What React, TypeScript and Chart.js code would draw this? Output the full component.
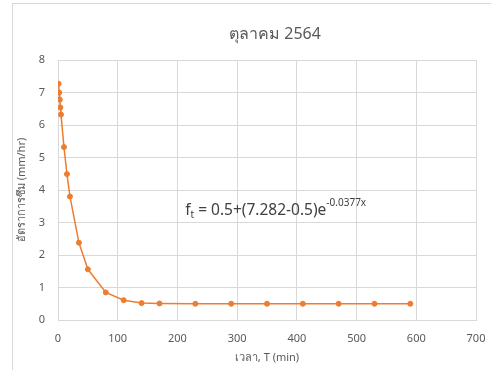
import React, { useEffect, useRef } from "react";
import { Chart, registerables } from "chart.js";

Chart.register(...registerables);

const chartTitle = "ตุลาคม 2564";
const xTitle = "เวลา, T (min)";
const yTitle = "อัตราการซึม (mm/hr)";
const times = [1, 2, 3, 4, 5, 10, 15, 20, 35, 50, 80, 110, 140, 170, 230, 290, 350, 410, 470, 530, 590];
const rates = [7.27, 7.0, 6.78, 6.54, 6.32, 5.32, 4.49, 3.8, 2.38, 1.56, 0.85, 0.61, 0.52, 0.51, 0.5, 0.5, 0.5, 0.5, 0.5, 0.5, 0.5];
const eqMain1 = "f";
const eqSub = "t";
const eqMain2 = " = 0.5+(7.282-0.5)e";
const eqSup = "-0.0377x";
const eqAnchor = { x: 213, y: 3.23 };

const FONT = '"Noto Sans", "Open Sans", sans-serif';
const TEXT = "#595959";
const GRID = "#d9d9d9";
const ORANGE = "#ED7D31";

const framePlugin = {
  id: "frame",
  beforeDraw(chart: any) {
    const ctx = chart.ctx;
    ctx.save();
    ctx.fillStyle = "#ffffff";
    ctx.fillRect(0, 0, chart.width, chart.height);
    ctx.strokeStyle = GRID;
    ctx.lineWidth = 1;
    ctx.strokeRect(12.5, 3.5, chart.width + 10, chart.height + 10);
    ctx.restore();
  },
  afterDraw(chart: any) {
    const ctx = chart.ctx;
    const { x, y } = chart.scales;
    ctx.save();
    // title
    ctx.fillStyle = TEXT;
    ctx.font = `16px ${FONT}`;
    ctx.textAlign = "center";
    ctx.textBaseline = "middle";
    ctx.fillText(chartTitle, 275, 34);
    // equation
    ctx.fillStyle = "#404040";
    ctx.textAlign = "left";
    ctx.textBaseline = "alphabetic";
    let px = x.getPixelForValue(eqAnchor.x);
    const py = y.getPixelForValue(eqAnchor.y);
    ctx.font = `15.5px ${FONT}`;
    ctx.fillText(eqMain1, px, py);
    px += ctx.measureText(eqMain1).width;
    ctx.font = `10px ${FONT}`;
    ctx.fillText(eqSub, px, py + 3);
    px += ctx.measureText(eqSub).width;
    ctx.font = `15.5px ${FONT}`;
    ctx.fillText(eqMain2, px, py);
    px += ctx.measureText(eqMain2).width;
    ctx.font = `10px ${FONT}`;
    ctx.fillText(eqSup, px, py - 9);
    ctx.restore();
  },
};

export default function App() {
  const ref = useRef<HTMLCanvasElement>(null);
  useEffect(() => {
    if (!ref.current) return;
    const chart = new Chart(ref.current, {
      type: "line",
      data: {
        datasets: [
          {
            data: times.map((t, i) => ({ x: t, y: rates[i] })),
            borderColor: ORANGE,
            backgroundColor: ORANGE,
            borderWidth: 1.5,
            pointRadius: 2.5,
            pointBorderWidth: 1,
            pointBackgroundColor: ORANGE,
            pointBorderColor: ORANGE,
            tension: 0,
          },
        ],
      },
      options: {
        animation: false,
        responsive: false,
        devicePixelRatio: 1,
        layout: { padding: { top: 60, right: 15, bottom: 4, left: 0 } },
        plugins: { legend: { display: false }, tooltip: { enabled: false }, title: { display: false } },
        scales: {
          x: {
            type: "linear",
            min: 0,
            max: 700,
            ticks: { stepSize: 100, color: TEXT, font: { family: FONT, size: 11 }, padding: 12, maxRotation: 0 },
            grid: { color: GRID, drawTicks: false },
            border: { color: GRID },
            title: { display: true, text: xTitle, color: TEXT, font: { family: FONT, size: 11 }, padding: { top: 2, bottom: 2 } },
            afterFit(scale: any) {
              scale.height = 46;
              scale.paddingLeft = 0;
              scale.paddingRight = 0;
            },
          },
          y: {
            min: 0,
            max: 8,
            ticks: { stepSize: 1, color: TEXT, font: { family: FONT, size: 11 }, padding: 13 },
            grid: { color: GRID, drawTicks: false },
            border: { color: GRID },
            title: { display: true, text: yTitle, color: TEXT, font: { family: FONT, size: 11 }, padding: { top: 15, bottom: 0 } },
            afterFit(scale: any) {
              scale.width = 58;
              scale.paddingTop = 0;
              scale.paddingBottom = 0;
            },
          },
        },
      },
      plugins: [framePlugin],
    });
    return () => chart.destroy();
  }, []);
  return (
    <div style={{ position: "fixed", left: 0, top: 0, width: 491, height: 370, background: "#fff" }}>
      <canvas ref={ref} width={491} height={370} />
    </div>
  );
}
